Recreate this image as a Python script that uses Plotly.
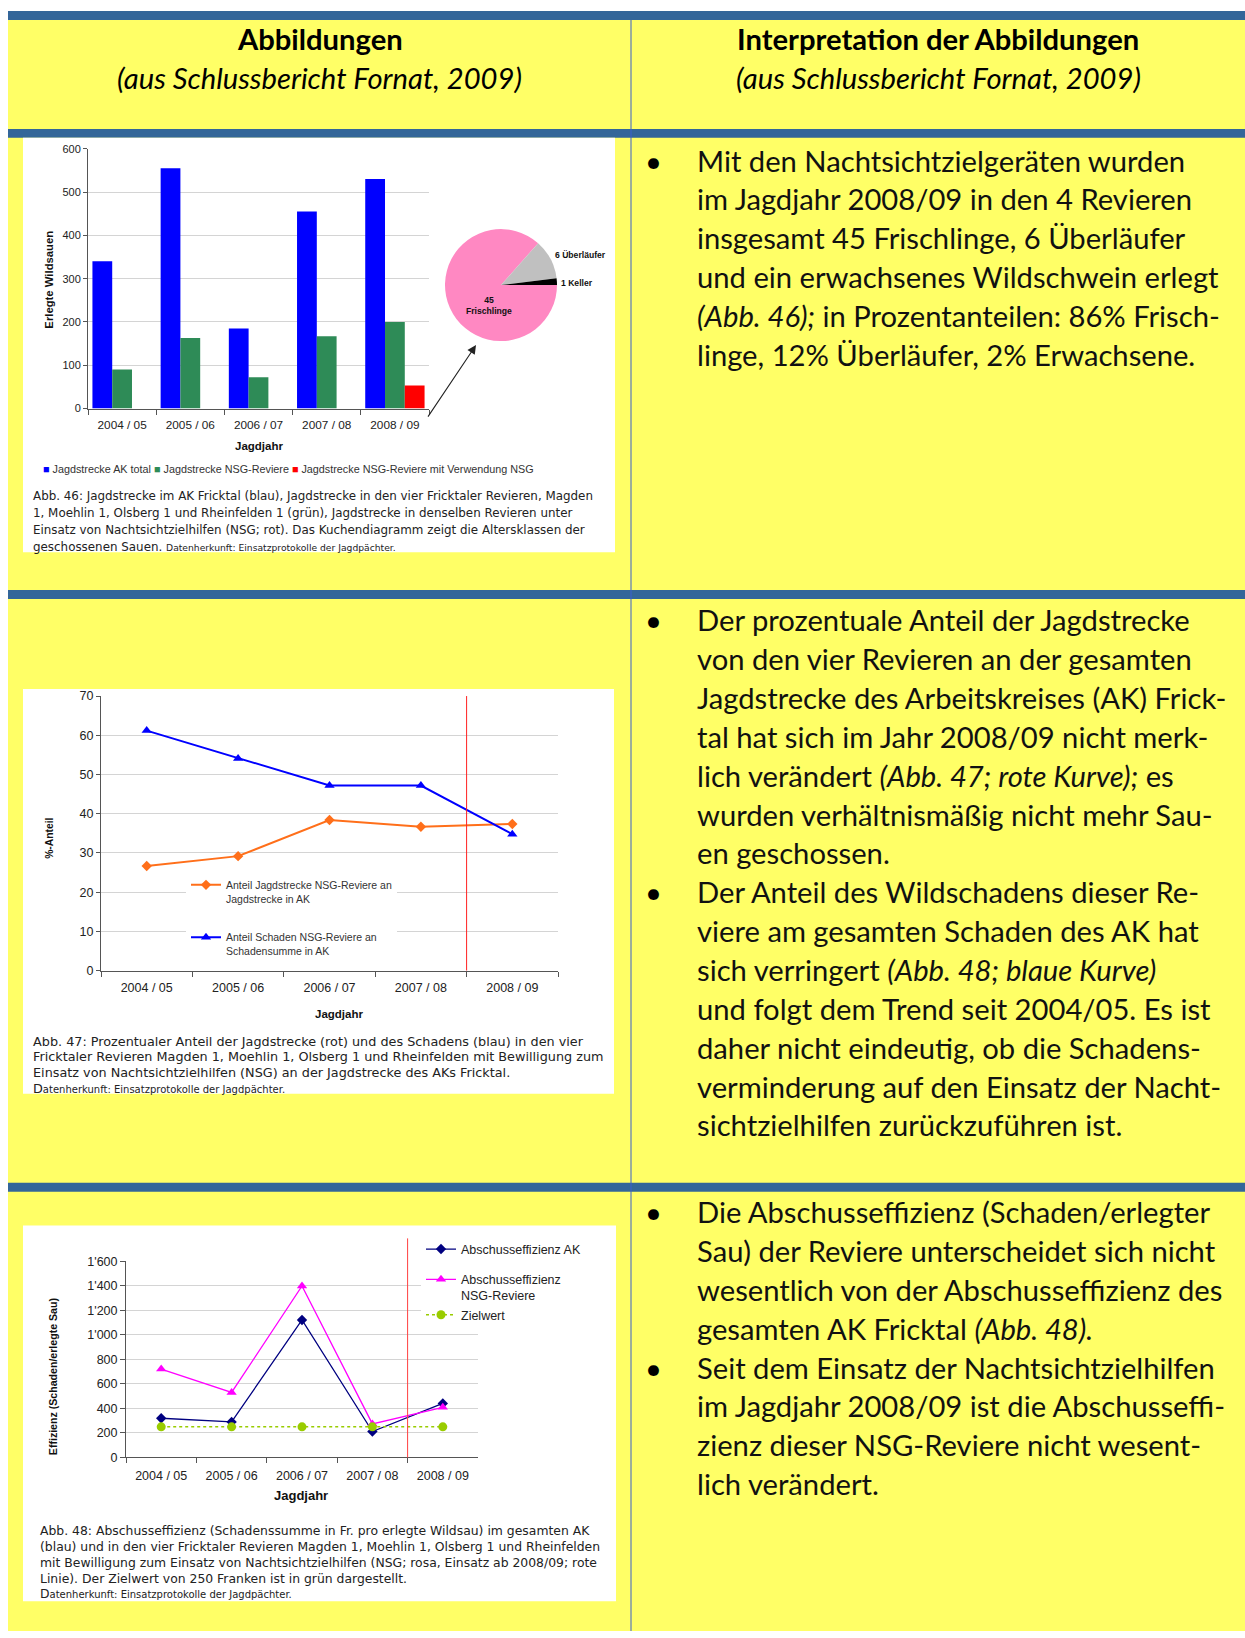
import plotly.graph_objects as go

W, H = 1245, 1638
def X(px): return px / W
def Y(py): return 1 - py / H

# ---------------- data ----------------
years = ["2004 / 05", "2005 / 06", "2006 / 07", "2007 / 08", "2008 / 09"]

# Abb. 46
strecke_ak_total = [340, 555, 185, 455, 530]
strecke_nsg_reviere = [90, 163, 72, 167, 200]
strecke_nsg_mit_nsg = [None, None, None, None, 53]
pie_labels = ["Frischlinge", "Überläufer", "Keller"]
pie_values = [45, 6, 1]

# Abb. 47
anteil_jagdstrecke = [26.7, 29.2, 38.4, 36.7, 37.4]
anteil_schaden = [61.2, 54.1, 47.2, 47.2, 34.8]
pct_ticks = [0, 10, 20, 30, 40, 50, 60, 70]

# Abb. 48
eff_ak = [320, 290, 1121, 212, 441]
eff_nsg = [721, 530, 1398, 274, 409]
zielwert = [250, 250, 250, 250, 250]
eff_tickvals = [0, 200, 400, 600, 800, 1000, 1200, 1400, 1600]
eff_ticktext = ["0", "200", "400", "600", "800", "1'000", "1'200", "1'400", "1'600"]

# ---------------- colours / fonts ----------------
YELLOW = "#FFFF66"
BAND = "#336699"
CHART_FONT = "Liberation Sans, Arial, sans-serif"
CAP_FONT = "DejaVu Sans"
BODY_FONT = "Lato"
TXT = "#111111"
BODY_SIZE = 29.2

fig = go.Figure()

# ---------------- Abb. 46 bars ----------------
bar_specs = [
    ("Jagdstrecke AK total", strecke_ak_total, "#0000FF"),
    ("Jagdstrecke NSG-Reviere", strecke_nsg_reviere, "#2E8B57"),
    ("Jagdstrecke NSG-Reviere mit Verwendung NSG", strecke_nsg_mit_nsg, "#FF0000"),
]
for name, vals, col in bar_specs:
    fig.add_trace(go.Bar(x=years, y=vals, name=name, marker_color=col,
                         marker_line_width=0, showlegend=False,
                         xaxis="x", yaxis="y"))

fig.add_trace(go.Pie(labels=pie_labels, values=pie_values,
                     marker=dict(colors=["#FF88C2", "#C0C0C0", "#000000"],
                                 line=dict(width=0)),
                     sort=False, direction="clockwise", rotation=90,
                     textinfo="none", showlegend=False,
                     domain=dict(x=[X(445), X(557)], y=[Y(337), Y(224)])))

# ---------------- Abb. 47 lines ----------------
fig.add_trace(go.Scatter(x=years, y=anteil_jagdstrecke, mode="lines+markers",
                         name="Anteil Jagdstrecke NSG-Reviere an<br>Jagdstrecke in AK",
                         line=dict(color="#FF6F1A", width=2),
                         marker=dict(symbol="diamond", size=8, color="#FF6F1A"),
                         xaxis="x2", yaxis="y2", legend="legend2", legendgroup="a"))
fig.add_trace(go.Scatter(x=years, y=anteil_schaden, mode="lines+markers",
                         name="Anteil Schaden NSG-Reviere an<br>Schadensumme in AK",
                         line=dict(color="#0000FF", width=2),
                         marker=dict(symbol="triangle-up", size=9, color="#0000FF"),
                         xaxis="x2", yaxis="y2", legend="legend2", legendgroup="b"))

# ---------------- Abb. 48 lines ----------------
fig.add_trace(go.Scatter(x=years, y=eff_ak, mode="lines+markers",
                         name="Abschusseffizienz AK",
                         line=dict(color="#000080", width=1.3),
                         marker=dict(symbol="diamond", size=8, color="#000080"),
                         xaxis="x3", yaxis="y3", legend="legend3", legendgroup="c"))
fig.add_trace(go.Scatter(x=years, y=eff_nsg, mode="lines+markers",
                         name="Abschusseffizienz<br>NSG-Reviere",
                         line=dict(color="#FF00FF", width=1.3),
                         marker=dict(symbol="triangle-up", size=9, color="#FF00FF"),
                         xaxis="x3", yaxis="y3", legend="legend3", legendgroup="d"))
fig.add_trace(go.Scatter(x=years, y=zielwert, mode="lines+markers",
                         name="Zielwert",
                         line=dict(color="#99CC00", width=1.5, dash="dot"),
                         marker=dict(symbol="circle", size=9, color="#99CC00"),
                         xaxis="x3", yaxis="y3", legend="legend3", legendgroup="d"))

# ---------------- background shapes ----------------
shapes = []
def rect(x0, y0, x1, y1, color):
    shapes.append(dict(type="rect", xref="paper", yref="paper", x0=X(x0), x1=X(x1),
                       y0=Y(y1), y1=Y(y0), fillcolor=color, line=dict(width=0),
                       layer="below"))

rect(8, 4, W, H, YELLOW)
for (a, b) in [(4, 13), (123, 132), (588, 597), (1186, 1195)]:
    rect(8, a, W, b, BAND)
# white chart images
rect(23, 132, 615, 550, "#FFFFFF")
rect(23, 688, 614, 1096, "#FFFFFF")
rect(23, 1229, 616, 1608, "#FFFFFF")
# column divider
shapes.append(dict(type="line", xref="paper", yref="paper", x0=X(631), x1=X(631),
                   y0=Y(H), y1=Y(13), line=dict(color="#3A5FCD", width=1), layer="below"))

# red marker lines (start of NSG use, between 2007/08 and 2008/09)
shapes.append(dict(type="line", xref="x2", yref="y2", x0=3.5, x1=3.5, y0=0, y1=70,
                   line=dict(color="#FF2020", width=1)))
d3 = (126, 478)
xr3 = d3[0] + (3.5 + 0.5) / 5 * (d3[1] - d3[0])
shapes.append(dict(type="line", xref="paper", yref="paper", x0=X(xr3), x1=X(xr3),
                   y0=Y(1463), y1=Y(1242), line=dict(color="#FF4040", width=1)))

# ---------------- annotations ----------------
ann = []
def text(px, py, s, size, font=BODY_FONT, xanchor="left", color=TXT, angle=0, yanchor="middle"):
    ann.append(dict(xref="paper", yref="paper", x=X(px), y=Y(py), text=s,
                    showarrow=False, xanchor=xanchor, yanchor=yanchor, textangle=angle,
                    font=dict(family=font, size=size, color=color)))

# headers
text(320, 32, "<b>Abbildungen</b>", BODY_SIZE, xanchor="center", color="#000")
text(320, 71, "<i>(aus Schlussbericht Fornat, 2009)</i>", BODY_SIZE, xanchor="center", color="#000")
text(938, 32, "<b>Interpretation der Abbildungen</b>", BODY_SIZE, xanchor="center", color="#000")
text(938, 71, "<i>(aus Schlussbericht Fornat, 2009)</i>", BODY_SIZE, xanchor="center", color="#000")

row1 = ["Mit den Nachtsichtzielgeräten wurden",
        "im Jagdjahr 2008/09 in den 4 Revieren",
        "insgesamt 45 Frischlinge, 6 Überläufer",
        "und ein erwachsenes Wildschwein erlegt",
        "<i>(Abb. 46);</i> in Prozentanteilen: 86% Frisch-",
        "linge, 12% Überläufer, 2% Erwachsene."]
row2 = ["Der prozentuale Anteil der Jagdstrecke",
        "von den vier Revieren an der gesamten",
        "Jagdstrecke des Arbeitskreises (AK) Frick-",
        "tal hat sich im Jahr 2008/09 nicht merk-",
        "lich verändert <i>(Abb. 47; rote Kurve);</i> es",
        "wurden verhältnismäßig nicht mehr Sau-",
        "en geschossen.",
        "Der Anteil des Wildschadens dieser Re-",
        "viere am gesamten Schaden des AK hat",
        "sich verringert <i>(Abb. 48; blaue Kurve)</i>",
        "und folgt dem Trend seit 2004/05. Es ist",
        "daher nicht eindeutig, ob die Schadens-",
        "verminderung auf den Einsatz der Nacht-",
        "sichtzielhilfen zurückzuführen ist."]
row3 = ["Die Abschusseffizienz (Schaden/erlegter",
        "Sau) der Reviere unterscheidet sich nicht",
        "wesentlich von der Abschusseffizienz des",
        "gesamten AK Fricktal <i>(Abb. 48).</i>",
        "Seit dem Einsatz der Nachtsichtzielhilfen",
        "im Jagdjahr 2008/09 ist die Abschusseffi-",
        "zienz dieser NSG-Reviere nicht wesent-",
        "lich verändert."]
for lines, y0, step, bullets in [(row1, 154.5, 39.1, [0]),
                                 (row2, 618.0, 39.2, [0, 7]),
                                 (row3, 1215.0, 39.2, [0, 4])]:
    for i, s in enumerate(lines):
        yy = y0 + i * step
        text(695, yy, s, BODY_SIZE)
        if i in bullets:
            text(653, yy, "•", BODY_SIZE, xanchor="center", color="#000")

# Abb. 46 texts
text(49, 275, "<b>Erlegte Wildsauen</b>", 11.3, font=CHART_FONT, xanchor="center", angle=-90)
text(259, 443, "<b>Jagdjahr</b>", 11.5, font=CHART_FONT, xanchor="center")
text(41, 466, "<span style='color:#0000FF'>■</span> Jagdstrecke AK total "
              "<span style='color:#2E8B57'>■</span> Jagdstrecke NSG-Reviere "
              "<span style='color:#FF0000'>■</span> Jagdstrecke NSG-Reviere mit Verwendung NSG",
     10.8, font=CHART_FONT, color="#333")
text(553, 250, f"<b>{pie_values[1]} {pie_labels[1]}</b>", 8.6, font=CHART_FONT)
text(559, 278, f"<b>{pie_values[2]} {pie_labels[2]}</b>", 8.6, font=CHART_FONT)
text(489, 301, f"<b>{pie_values[0]}<br>{pie_labels[0]}</b>", 8.6, font=CHART_FONT, xanchor="center")
cap1 = ["Abb. 46: Jagdstrecke im AK Fricktal (blau), Jagdstrecke in den vier Fricktaler Revieren, Magden",
        "1, Moehlin 1, Olsberg 1 und Rheinfelden 1 (grün), Jagdstrecke in denselben Revieren unter",
        "Einsatz von Nachtsichtzielhilfen (NSG; rot). Das Kuchendiagramm zeigt die Altersklassen der",
        "geschossenen Sauen. <span style='font-size:9.2px'>Datenherkunft: Einsatzprotokolle der Jagdpächter.</span>"]
for i, s in enumerate(cap1):
    text(31, 493 + i * 17.3, s, 11.9, font=CAP_FONT, color="#222")

# arrow to pie
ann.append(dict(xref="paper", yref="paper", x=X(476), y=Y(341), ax=-49, ay=73,
                text="", showarrow=True, arrowhead=2, arrowsize=1.6, arrowwidth=1.1,
                arrowcolor="#222"))

# Abb. 47 texts
text(50, 839, "<b>%-Anteil</b>", 10.3, font=CHART_FONT, xanchor="center", angle=-90)
text(339, 1016, "<b>Jagdjahr</b>", 11.5, font=CHART_FONT, xanchor="center")
cap2 = ["Abb. 47: Prozentualer Anteil der Jagdstrecke (rot) und des Schadens (blau) in den vier",
        "Fricktaler Revieren Magden 1, Moehlin 1, Olsberg 1 und Rheinfelden mit Bewilligung zum",
        "Einsatz von Nachtsichtzielhilfen (NSG) an der Jagdstrecke des AKs Fricktal.",
        "D<span style='font-size:10px'>atenherkunft: Einsatzprotokolle der Jagdpächter.</span>"]
for i, s in enumerate(cap2):
    text(31, 1043 + i * 16, s, 12.8, font=CAP_FONT, color="#222")

# Abb. 48 texts
text(53, 1382, "<b>Effizienz (Schaden/erlegte Sau)</b>", 10.6, font=CHART_FONT, xanchor="center", angle=-90)
text(301, 1501, "<b>Jagdjahr</b>", 13, font=CHART_FONT, xanchor="center")
cap3 = ["Abb. 48: Abschusseffizienz (Schadenssumme in Fr. pro erlegte Wildsau) im gesamten AK",
        "(blau) und in den vier Fricktaler Revieren Magden 1, Moehlin 1, Olsberg 1 und Rheinfelden",
        "mit Bewilligung zum Einsatz von Nachtsichtzielhilfen (NSG; rosa, Einsatz ab 2008/09; rote",
        "Linie). Der Zielwert von 250 Franken ist in grün dargestellt.",
        "D<span style='font-size:10px'>atenherkunft: Einsatzprotokolle der Jagdpächter.</span>"]
for i, s in enumerate(cap3):
    text(38, 1537 + i * 15.9, s, 12.4, font=CAP_FONT, color="#222")

# ---------------- axes ----------------
def xcat(d0, d1, size, standoff):
    return dict(domain=[X(d0), X(d1)], type="category", range=[-0.5, 4.5],
                tickson="boundaries", ticks="outside", ticklen=5, tickcolor="#555",
                ticklabelstandoff=standoff,
                showline=True, linecolor="#555", linewidth=1, showgrid=False,
                tickfont=dict(family=CHART_FONT, size=size, color="#222"), fixedrange=True)

def yax(top, bottom, rng, size, **kw):
    d = dict(domain=[Y(bottom), Y(top)], range=rng, ticks="outside", ticklen=4,
             tickcolor="#555", showline=True, linecolor="#555", linewidth=1,
             showgrid=True, gridcolor="#D4D4D4", gridwidth=1, zeroline=False,
             tickfont=dict(family=CHART_FONT, size=size, color="#222"), fixedrange=True)
    d.update(kw)
    return d

fig.update_layout(
    width=W, height=H, margin=dict(l=0, r=0, t=0, b=0),
    paper_bgcolor="#FFFFFF", plot_bgcolor="rgba(0,0,0,0)",
    barmode="group", bargap=0.13, bargroupgap=0,
    xaxis=dict(xcat(88, 429, 11.8, 5), anchor="y"),
    yaxis=dict(yax(143, 405, [0, 600], 11, dtick=100), anchor="x"),
    xaxis2=dict(xcat(101, 558, 12.5, 5), anchor="y2"),
    yaxis2=dict(yax(695, 972, [0, 70], 12.5, tickvals=pct_ticks), anchor="x2"),
    xaxis3=dict(xcat(126, 478, 12.5, 7), anchor="y3"),
    yaxis3=dict(yax(1265, 1463, [0, 1600], 12.5, tickvals=eff_tickvals,
                    ticktext=eff_ticktext, ticklen=5), anchor="x3"),
    legend2=dict(x=X(186), y=Y(872), xanchor="left", yanchor="top",
                 bgcolor="#FFFFFF", borderwidth=0, valign="top", tracegroupgap=22,
                 font=dict(family=CHART_FONT, size=10.5, color="#333")),
    legend3=dict(x=X(421), y=Y(1238), xanchor="left", yanchor="top",
                 bgcolor="#FFFFFF", borderwidth=0, valign="top", tracegroupgap=11,
                 font=dict(family=CHART_FONT, size=12.5, color="#222")),
    shapes=shapes, annotations=ann, showlegend=True,
)

fig.write_html("out.html", config={"displayModeBar": False})
